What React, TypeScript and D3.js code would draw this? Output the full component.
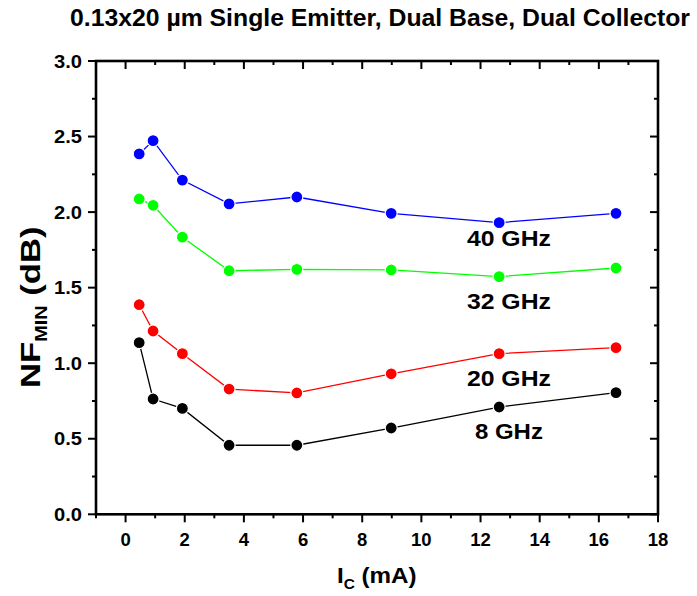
import React, { useEffect, useRef } from "react";
import * as d3 from "d3";

const currents = [0.46, 0.93, 1.92, 3.5, 5.79, 8.98, 12.63, 16.58];
const nf40 = [2.385, 2.473, 2.212, 2.054, 2.1, 1.992, 1.93, 1.992];
const nf32 = [2.087, 2.045, 1.834, 1.612, 1.621, 1.617, 1.573, 1.63];
const nf20 = [1.387, 1.213, 1.063, 0.829, 0.803, 0.93, 1.063, 1.103];
const nf8 = [1.136, 0.763, 0.701, 0.457, 0.457, 0.571, 0.71, 0.805];
const seriesNames = ["40 GHz", "32 GHz", "20 GHz", "8 GHz"];
const seriesColors = ["#0000ff", "#00ff00", "#ff0000", "#000000"];
const xTicks = [0, 2, 4, 6, 8, 10, 12, 14, 16, 18];
const xMinor = [-1, 1, 3, 5, 7, 9, 11, 13, 15, 17];
const yTicks = [0, 0.5, 1.0, 1.5, 2.0, 2.5, 3.0];
const yMinor = [0.25, 0.75, 1.25, 1.75, 2.25, 2.75];
// label anchor positions in data units (x center, y baseline)
const labelX = [12.96, 12.96, 12.96, 12.96];
const labelY = [1.773, 1.357, 0.851, 0.496];

const W = 697;
const H = 596;
const L = 96, R = 658, T = 61, B = 514.3;
const FONT = "'Liberation Sans', Arial, sans-serif";

export default function App() {
  const ref = useRef<SVGSVGElement>(null);
  useEffect(() => {
    const svg = d3.select(ref.current);
    svg.selectAll("*").remove();
    const x = d3.scaleLinear().domain([-1, 18]).range([L, R]);
    const y = d3.scaleLinear().domain([0, 3]).range([B, T]);
    const data = [nf40, nf32, nf20, nf8];

    // title
    svg.append("text")
      .attr("x", 70).attr("y", 26)
      .attr("font-family", FONT).attr("font-weight", "bold").attr("font-size", 23)
      .attr("textLength", 620).attr("lengthAdjust", "spacingAndGlyphs")
      .text("0.13x20 µm Single Emitter, Dual Base, Dual Collector");

    // series
    const line = d3.line<number>().x((_, i) => x(currents[i])).y((d) => y(d));
    data.forEach((vals, si) => {
      svg.append("path").attr("d", line(vals) as string)
        .attr("fill", "none").attr("stroke", seriesColors[si]).attr("stroke-width", 1.3);
      svg.selectAll(null).data(vals).enter().append("circle")
        .attr("cx", (_, i) => x(currents[i])).attr("cy", (d) => y(d))
        .attr("r", 6).attr("fill", seriesColors[si])
        .attr("stroke", "#fff").attr("stroke-width", 1.2);
      svg.append("text")
        .attr("x", x(labelX[si])).attr("y", y(labelY[si]))
        .attr("text-anchor", "middle")
        .attr("font-family", FONT).attr("font-weight", "bold").attr("font-size", 22)
        .attr("textLength", si === 3 ? 68 : 84).attr("lengthAdjust", "spacingAndGlyphs")
        .text(seriesNames[si]);
    });

    // frame
    svg.append("rect").attr("x", L).attr("y", T).attr("width", R - L).attr("height", B - T)
      .attr("fill", "none").attr("stroke", "#000").attr("stroke-width", 2.6);

    const g = svg.append("g").attr("stroke", "#000").attr("stroke-width", 2);
    xTicks.forEach((t) => {
      g.append("line").attr("x1", x(t)).attr("x2", x(t)).attr("y1", B).attr("y2", B + 8);
      g.append("line").attr("x1", x(t)).attr("x2", x(t)).attr("y1", T).attr("y2", T + 8);
    });
    xMinor.forEach((t) => {
      g.append("line").attr("x1", x(t)).attr("x2", x(t)).attr("y1", B).attr("y2", B + 4);
      g.append("line").attr("x1", x(t)).attr("x2", x(t)).attr("y1", T).attr("y2", T + 4);
    });
    yTicks.forEach((t) => {
      g.append("line").attr("y1", y(t)).attr("y2", y(t)).attr("x1", L).attr("x2", L - 8);
      g.append("line").attr("y1", y(t)).attr("y2", y(t)).attr("x1", R).attr("x2", R - 8);
    });
    yMinor.forEach((t) => {
      g.append("line").attr("y1", y(t)).attr("y2", y(t)).attr("x1", L).attr("x2", L - 4);
      g.append("line").attr("y1", y(t)).attr("y2", y(t)).attr("x1", R).attr("x2", R - 4);
    });

    // tick labels
    xTicks.forEach((t) => {
      svg.append("text").attr("x", x(t)).attr("y", 545.5).attr("text-anchor", "middle")
        .attr("font-family", FONT).attr("font-weight", "bold").attr("font-size", 18.5)
        .text(String(t));
    });
    yTicks.forEach((t) => {
      svg.append("text").attr("x", 82).attr("y", y(t) + 6.6).attr("text-anchor", "end")
        .attr("font-family", FONT).attr("font-weight", "bold").attr("font-size", 19)
        .attr("textLength", 28).attr("lengthAdjust", "spacingAndGlyphs")
        .text(t.toFixed(1));
    });

    // x label
    const xl = svg.append("text")
      .attr("transform", "translate(337,582.5) scale(1.1,1)")
      .attr("font-family", FONT).attr("font-weight", "bold").attr("font-size", 22);
    xl.append("tspan").text("I");
    xl.append("tspan").attr("font-size", 14).attr("dy", 6).text("C");
    xl.append("tspan").attr("dy", -6).text(" (mA)");

    // y label
    const yl = svg.append("text")
      .attr("transform", "translate(39.5,388) rotate(-90) scale(1.24,1)")
      .attr("font-family", FONT).attr("font-weight", "bold").attr("font-size", 28);
    yl.append("tspan").text("NF");
    yl.append("tspan").attr("font-size", 16).attr("dy", 7).text("MIN");
    yl.append("tspan").attr("dy", -7).text(" (dB)");
  }, []);

  return (
    <svg ref={ref} width={W} height={H}
      style={{ position: "absolute", left: 0, top: 0, background: "#fff" }} />
  );
}
